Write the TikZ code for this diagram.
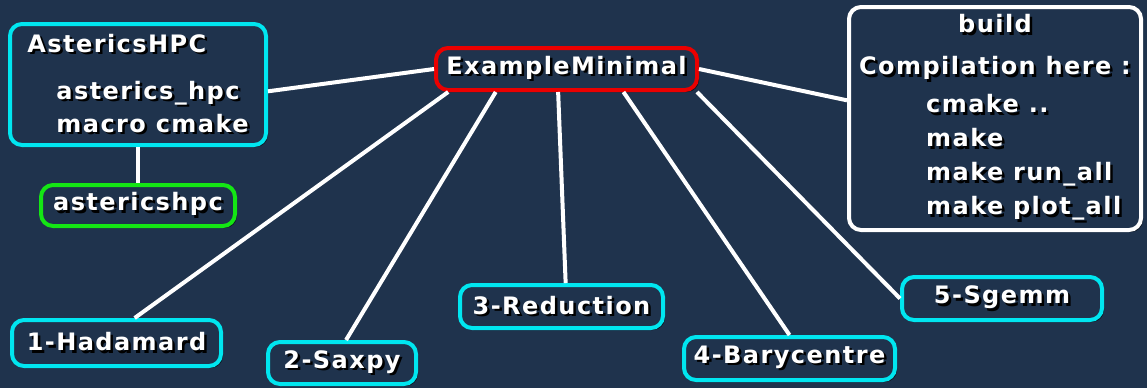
\documentclass[tikz,border=0pt]{standalone}
\usepackage{fontspec}
\setmainfont{DejaVu Sans}[LetterSpace=6]
\usetikzlibrary{shadows}
\definecolor{bgblue}{RGB}{31,51,77}
\definecolor{mcyan}{RGB}{0,230,240}
\definecolor{mred}{RGB}{235,0,0}
\definecolor{mgreen}{RGB}{20,230,20}
% white text with a dark shadow
\newcommand\shd[1]{\makebox[0pt][l]{\hspace{2.5pt}\raisebox{-2.5pt}{\color{black}#1}}#1}

\begin{document}
\begin{tikzpicture}[x=1pt,y=-1pt,
  box/.style={draw=mcyan, rounded corners=12pt, line width=4pt, fill=bgblue,
    text=white, font=\fontsize{24}{33}\selectfont\bfseries, inner sep=0pt,
    drop shadow={shadow xshift=2pt, shadow yshift=-2pt, opacity=0.6, fill=black}},
  link/.style={white, line width=4pt}]
\fill[bgblue] (0,0) rectangle (1147,388);
\useasboundingbox (0,0) rectangle (1147,388);

\node[box, draw=mred, minimum width=261pt, minimum height=42pt] (em) at (566.5,69) {\shd{ExampleMinimal}};
\node[box, minimum width=256pt, minimum height=121pt, align=left] (astr) at (138,84.5)
  {\shd{AstericsHPC}\\[14pt]\hspace*{29pt}\shd{asterics\_hpc}\\\hspace*{29pt}\shd{macro cmake}};
\node[box, draw=mgreen, minimum width=194pt, minimum height=41pt] (ahpc) at (138,205.5) {\shd{astericshpc}};
\node[box, draw=white, minimum width=292pt, minimum height=223pt, align=left,
  font=\fontsize{24}{34}\selectfont\bfseries] (build) at (995,118.5)
  {\hspace*{99pt}\shd{build}\\[8pt]\shd{Compilation here :}\\[4pt]
   \hspace*{67pt}\shd{cmake ..}\\\hspace*{67pt}\shd{make}\\
   \hspace*{67pt}\shd{make run\_all}\\\hspace*{67pt}\shd{make plot\_all}};
\node[box, minimum width=209pt, minimum height=46pt] (had) at (116.5,343) {\shd{1-Hadamard}};
\node[box, minimum width=148pt, minimum height=42pt] (sax) at (342,363) {\shd{2-Saxpy}};
\node[box, minimum width=203pt, minimum height=43pt] (red) at (561.5,306.5) {\shd{3-Reduction}};
\node[box, minimum width=211pt, minimum height=43pt] (bary) at (789.5,358.5) {\shd{4-Barycentre}};
\node[box, minimum width=200pt, minimum height=43pt] (sg) at (1002,298.5) {\shd{5-Sgemm}};

\draw[link] (em.west) -- (astr.357.6);
\draw[link] (astr.south) -- (ahpc.north);
\draw[link] (em.east) -- (build.173);
\draw[link] (em.191) -- (had.54);
\draw[link] (em.198.4) -- (sax.80);
\draw[link] (em.250.8) -- (red.80);
\draw[link] (em.338) -- (bary.north);
\draw[link] (em.-10) -- (sg.west);
\end{tikzpicture}
\end{document}
